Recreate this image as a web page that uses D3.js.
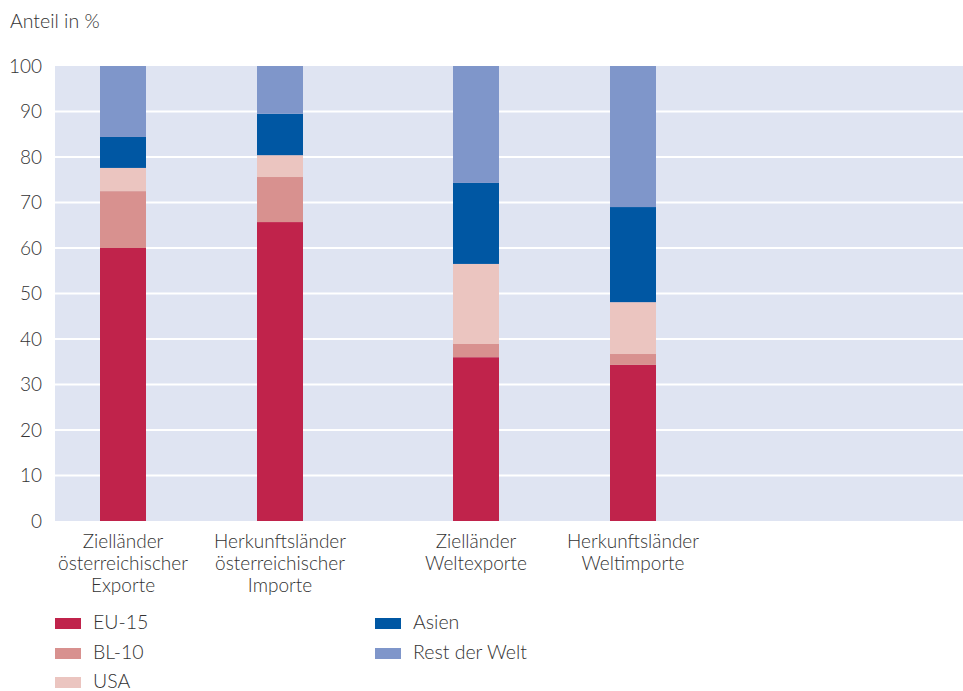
<!DOCTYPE html>
<html>
<head>
<meta charset="utf-8">
<script src="https://cdn.jsdelivr.net/npm/d3@7"></script>
<style>
  html, body { margin: 0; padding: 0; background: #ffffff; }
  svg text { font-family: "Lato", "Open Sans", sans-serif; font-weight: 300; fill: #333333; }
</style>
</head>
<body>
<svg id="chart" width="963" height="691"></svg>
<script>
// ---- data ----
const groups = ["Österreich", "Welt"];
const categories = [
  ["Zielländer", "österreichischer", "Exporte"],
  ["Herkunftsländer", "österreichischer", "Importe"],
  ["Zielländer", "Weltexporte"],
  ["Herkunftsländer", "Weltimporte"]
];
const categoryGroup = [0, 0, 1, 1];
const seriesNames = ["EU-15", "BL-10", "USA", "Asien", "Rest der Welt"];
const euValues   = [60.0, 65.7, 36.0, 34.3];
const blValues   = [12.5,  9.9,  2.9,  2.4];
const usaValues  = [ 5.1,  4.8, 17.6, 11.4];
const asiaValues = [ 6.8,  9.1, 17.8, 20.9];
const restValues = [15.6, 10.5, 25.7, 31.0];
const yTicks = [0, 10, 20, 30, 40, 50, 60, 70, 80, 90, 100];
const colors = ["#c0234b", "#d8918f", "#ebc5c0", "#0057a3", "#7f96ca"];

// ---- layout ----
const svg = d3.select("#chart");
const plot = { left: 55, right: 963, top: 66, bottom: 521 };

const y = d3.scaleLinear().domain([0, 100]).range([plot.bottom, plot.top]);

const outer = d3.scaleBand().domain(groups).range([25, 731]).padding(0);
const inner = d3.scaleBand().domain([0, 1]).range([0, outer.bandwidth()])
  .paddingInner(0.707).paddingOuter(0.4777);

const rows = categories.map((c, i) => ({
  idx: i,
  group: groups[categoryGroup[i]],
  slot: categories.slice(0, i).filter((_, j) => categoryGroup[j] === categoryGroup[i]).length,
  "EU-15": euValues[i], "BL-10": blValues[i], "USA": usaValues[i],
  "Asien": asiaValues[i], "Rest der Welt": restValues[i]
}));
const xPos = d => outer(d.group) + inner(d.slot);

// background
svg.append("rect")
  .attr("x", plot.left).attr("y", plot.top)
  .attr("width", plot.right - plot.left).attr("height", plot.bottom - plot.top)
  .attr("fill", "#dfe4f2");

// gridlines
svg.append("g").selectAll("line")
  .data(yTicks.filter(t => t > 0 && t < 100))
  .join("line")
  .attr("x1", plot.left).attr("x2", plot.right)
  .attr("y1", d => y(d)).attr("y2", d => y(d))
  .attr("stroke", "#ffffff").attr("stroke-width", 2);

// stacked bars
const stack = d3.stack().keys(seriesNames)(rows);
const colorScale = d3.scaleOrdinal().domain(seriesNames).range(colors);
svg.append("g").selectAll("g")
  .data(stack)
  .join("g")
  .attr("fill", s => colorScale(s.key))
  .selectAll("rect")
  .data(s => s)
  .join("rect")
  .attr("x", d => xPos(d.data))
  .attr("width", inner.bandwidth())
  .attr("y", d => y(d[1]))
  .attr("height", d => y(d[0]) - y(d[1]));

// y axis labels
const yAxis = d3.axisLeft(y).tickValues(yTicks).tickSize(0).tickPadding(13);
const yg = svg.append("g").attr("transform", `translate(${plot.left},0)`).call(yAxis);
yg.select(".domain").remove();
yg.selectAll("text").style("font-size", "19px").attr("fill", "#333333")
  .style("font-family", "Lato, 'Open Sans', sans-serif").style("font-weight", 300);

// y title
svg.append("text").attr("x", 10).attr("y", 28).style("font-size", "19.5px").text("Anteil in %");

// x labels
const xl = svg.append("g");
rows.forEach(r => {
  const t = xl.append("text")
    .attr("x", xPos(r) + inner.bandwidth() / 2)
    .attr("y", 548)
    .attr("text-anchor", "middle")
    .style("font-size", "19px");
  categories[r.idx].forEach((line, k) => {
    t.append("tspan").attr("x", xPos(r) + inner.bandwidth() / 2)
      .attr("dy", k === 0 ? 0 : 22).text(line);
  });
});

// legend
const legendPos = [[55, 623], [55, 653], [55, 682], [375, 623], [375, 653]];
const lg = svg.append("g");
seriesNames.forEach((name, i) => {
  const [lx, ly] = legendPos[i];
  lg.append("rect").attr("x", lx).attr("y", ly - 5).attr("width", 26).attr("height", 11)
    .attr("fill", colors[i]);
  lg.append("text").attr("x", lx + 38).attr("y", ly + 6).style("font-size", "19.5px").text(name);
});
</script>
</body>
</html>
